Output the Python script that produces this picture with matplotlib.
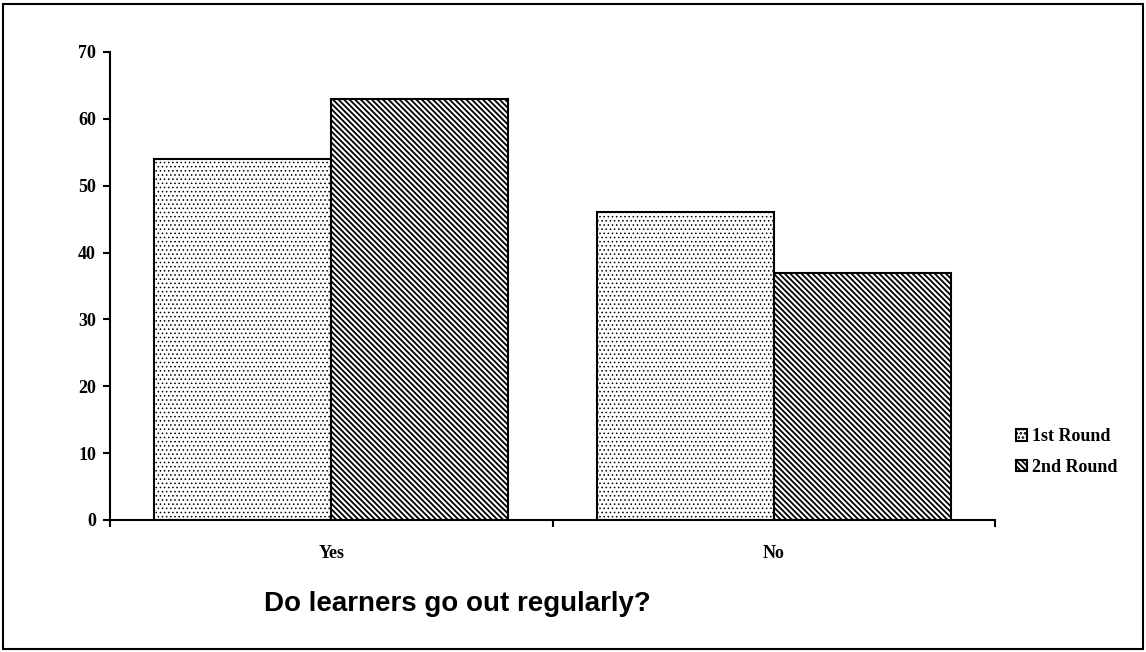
import matplotlib.pyplot as plt
import numpy as np
from matplotlib.patches import Rectangle

categories = ["Yes", "No"]
first_round = [54, 46]
second_round = [63, 37]
series_names = ["1st Round", "2nd Round"]

plt.rcParams['hatch.linewidth'] = 1.3

fig = plt.figure(figsize=(11.46, 6.52), dpi=100)
ax = fig.add_axes([110 / 1146, 1 - 520 / 652, 885 / 1146, 468 / 652])

x = np.arange(len(categories))
w = 0.4
b1 = ax.bar(x - w / 2, first_round, w, facecolor='white', edgecolor='black',
            linewidth=1.5, hatch='....', label=series_names[0])
b2 = ax.bar(x + w / 2, second_round, w, facecolor='white', edgecolor='black',
            linewidth=1.5, hatch='\\\\\\\\\\\\', label=series_names[1])
for p in b1:
    p._hatch_linewidth = 0.6

ax.set_xlim(-0.5, 1.5)
ax.set_ylim(0, 70)
ax.set_yticks(range(0, 71, 10))
ax.set_xticks(x)
ax.set_xticklabels(categories)
ax.set_xticks([-0.5, 0.5, 1.5], minor=True)
ax.tick_params(axis='x', which='major', length=0, pad=18)
ax.tick_params(axis='x', which='minor', length=5, width=1.5, direction='out')
ax.tick_params(axis='y', length=5, width=1.5, direction='out', pad=5)
for s in ['top', 'right']:
    ax.spines[s].set_visible(False)
for s in ['left', 'bottom']:
    ax.spines[s].set_linewidth(1.5)
for lab in ax.get_xticklabels() + ax.get_yticklabels():
    lab.set_fontfamily('Liberation Serif')
    lab.set_fontweight('bold')
    lab.set_fontsize(13)

fig.text(457 / 1146, 1 - 604 / 652, "Do learners go out regularly?",
         fontfamily='Liberation Sans', fontweight='bold', fontsize=20,
         ha='center', va='center')

leg = fig.legend(handles=[b1, b2], loc='center left',
                 bbox_to_anchor=(1000 / 1146, 1 - 452 / 652), frameon=False,
                 prop={'family': 'Liberation Serif', 'weight': 'bold', 'size': 13},
                 handlelength=0.6, handleheight=0.6, handletextpad=0.3,
                 labelspacing=0.75)

fig.patches.append(Rectangle((3 / 1146, 3 / 652), 1140 / 1146, 645 / 652,
                             transform=fig.transFigure, fill=False,
                             edgecolor='black', linewidth=1.5))

fig.savefig("out.png", dpi=100)
